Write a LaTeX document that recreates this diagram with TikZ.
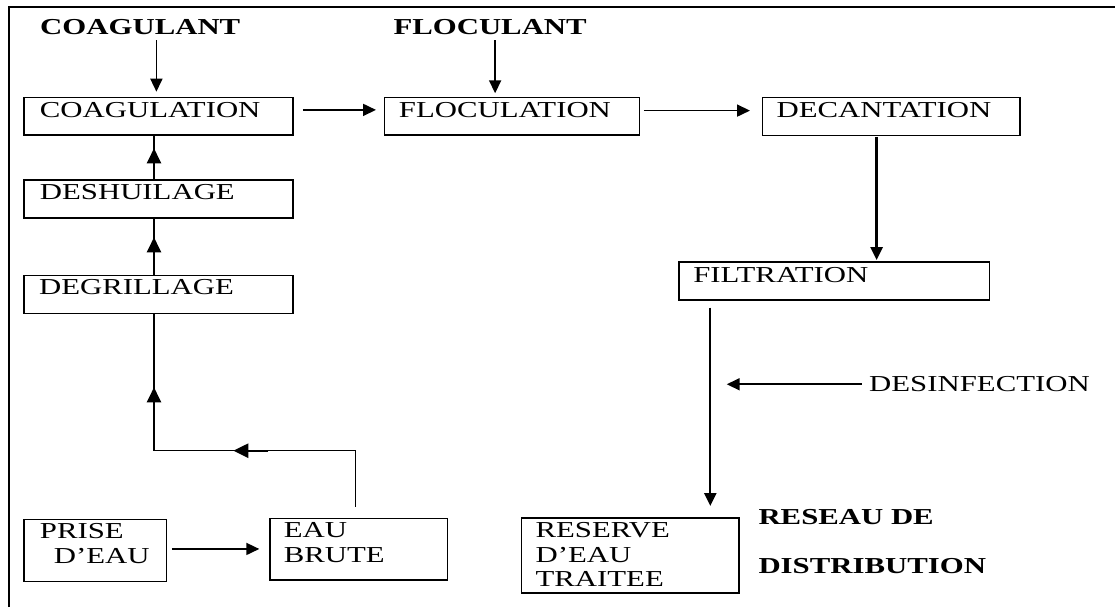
\documentclass[tikz,border=0pt]{standalone}
\usepackage{fontspec}
\setmainfont{Liberation Serif}[FakeStretch=1.35]
\usetikzlibrary{arrows.meta,calc}
\begin{document}
\begin{tikzpicture}[x=1pt,y=-1pt,
  every node/.style={font=\fontsize{22.8pt}{24.4pt}\selectfont},
  box/.style={draw=black, line width=1.2pt, anchor=north west, inner ysep=0pt, align=left},
  lbl/.style={inner sep=0pt, anchor=base west},
  blbl/.style={inner sep=0pt, anchor=base west, font=\fontsize{22.8pt}{24.4pt}\selectfont\bfseries},
  conn/.style={line width=1.5pt},
  arr/.style={line width=1.7pt, -{Triangle[length=13pt,width=12pt]}},
  midarr/.style={line width=2.4pt, -{Triangle[length=15pt,width=14pt]}},
  frame/.style={line width=2pt}
]
\useasboundingbox (0,0) rectangle (1115,607);
% frame
\draw[frame] (9,607) -- (9,6.7) -- (1115,6.7);

% boxes
\node[box, text width=237pt, inner xsep=16pt, text height=20pt, text depth=17.6pt] (coag) at (23.3,96.7) {COAGULATION};
\node[box, text width=237pt, inner xsep=16pt, text height=20pt, text depth=18pt] (desh) at (23.3,179.3) {DESHUILAGE};
\node[box, text width=238.6pt, inner xsep=15.2pt, text height=19pt, text depth=18.7pt] (degr) at (23.3,275) {DEGRILLAGE};
\node[box, text width=226.1pt, inner xsep=14.3pt, text height=20pt, text depth=17.6pt] (floc) at (384,96.7) {FLOCULATION};
\node[box, text width=229pt, inner xsep=14.3pt, text height=19.4pt, text depth=18pt] (deca) at (761.7,97.3) {DECANTATION};
\node[box, text width=281.6pt, inner xsep=14.4pt, text height=20.4pt, text depth=17.7pt] (filt) at (678.3,261.3) {FILTRATION};
\node[box, text width=110.4pt, inner xsep=16pt, text height=19.3pt, text depth=42.4pt] (prise) at (23.3,519) {PRISE\\\hspace*{14pt}D’EAU};
\node[box, text width=149.4pt, inner xsep=14pt, text height=19.6pt, text depth=42pt] (eau) at (269.3,517.7) {EAU\\BRUTE};
\node[box, text width=189pt, inner xsep=14.3pt, text height=20pt, text depth=55pt] (res) at (520.7,517.3) {RESERVE\\D’EAU\\TRAITEE};

% labels
\node[blbl] (coagulant) at (40,35) {COAGULANT};
\node[blbl] (floculant) at (393.3,35) {FLOCULANT};
\node[lbl] (desinf) at (869,391.7) {DESINFECTION};
\node[blbl] (reseau) at (758.3,524.5) {RESEAU DE};
\node[blbl] (distrib) at (758.3,573.3) {DISTRIBUTION};

% connectors
\draw[arr] ($(coag.north |- coagulant.south)+(-2,5)$) -- ($(coag.north)+(-2,-5)$);
\draw[arr] ($(floculant.south)+(5,5)$) -- ($(floculant.south |- floc.north)+(5,-3.4)$);
\draw[arr] ($(coag.east)+(9.4,-6.2)$) -- ($(coag.east -| floc.west)+(-8,-6.2)$);
\draw[arr] ($(floc.east)+(4,-5.5)$) -- ($(floc.east -| deca.west)+(-11.7,-5.5)$);
\draw[arr, line width=2.6pt] ($(deca.south)+(-14.5,1.3)$) -- ($(deca.south |- filt.north)+(-14.5,-1.3)$);
\draw[arr, line width=2.2pt] ($(filt.south west)+(32,7)$) -- ($(filt.south west |- res.north)+(32,-11.3)$);
\coordinate (dtip) at (726.7,384);
\draw[arr] ($(desinf.west)+(-7.3,0)$) -- (desinf.west -| dtip);
\draw[arr] ($(prise.east)+(5,-1.5)$) -- ($(prise.east -| eau.west)+(-10,-1.5)$);

\coordinate (j1) at (355.7,450.7);
\coordinate (j2) at (154,450.7);
\draw[conn] ($(eau.north -| j1)+(0,-11)$) -- (j1) -- (j2) -- (j2 |- degr.south);
\draw[midarr] ($(j2)+(114.3,0)$) -- ($(j2)+(79.3,0)$);
\draw[midarr] ($(j2)+(0,-36.7)$) -- ($(j2)+(0,-63.4)$);

\draw[conn] (j2 |- degr.north) -- (j2 |- desh.south);
\draw[midarr] ($(j2 |- degr.north)+(0,-10)$) -- ($(j2 |- degr.north)+(0,-37.7)$);
\draw[conn] (j2 |- desh.north) -- (j2 |- coag.south);
\draw[midarr] ($(j2 |- desh.north)+(0,-2.6)$) -- ($(j2 |- desh.north)+(0,-31)$);
\end{tikzpicture}
\end{document}
